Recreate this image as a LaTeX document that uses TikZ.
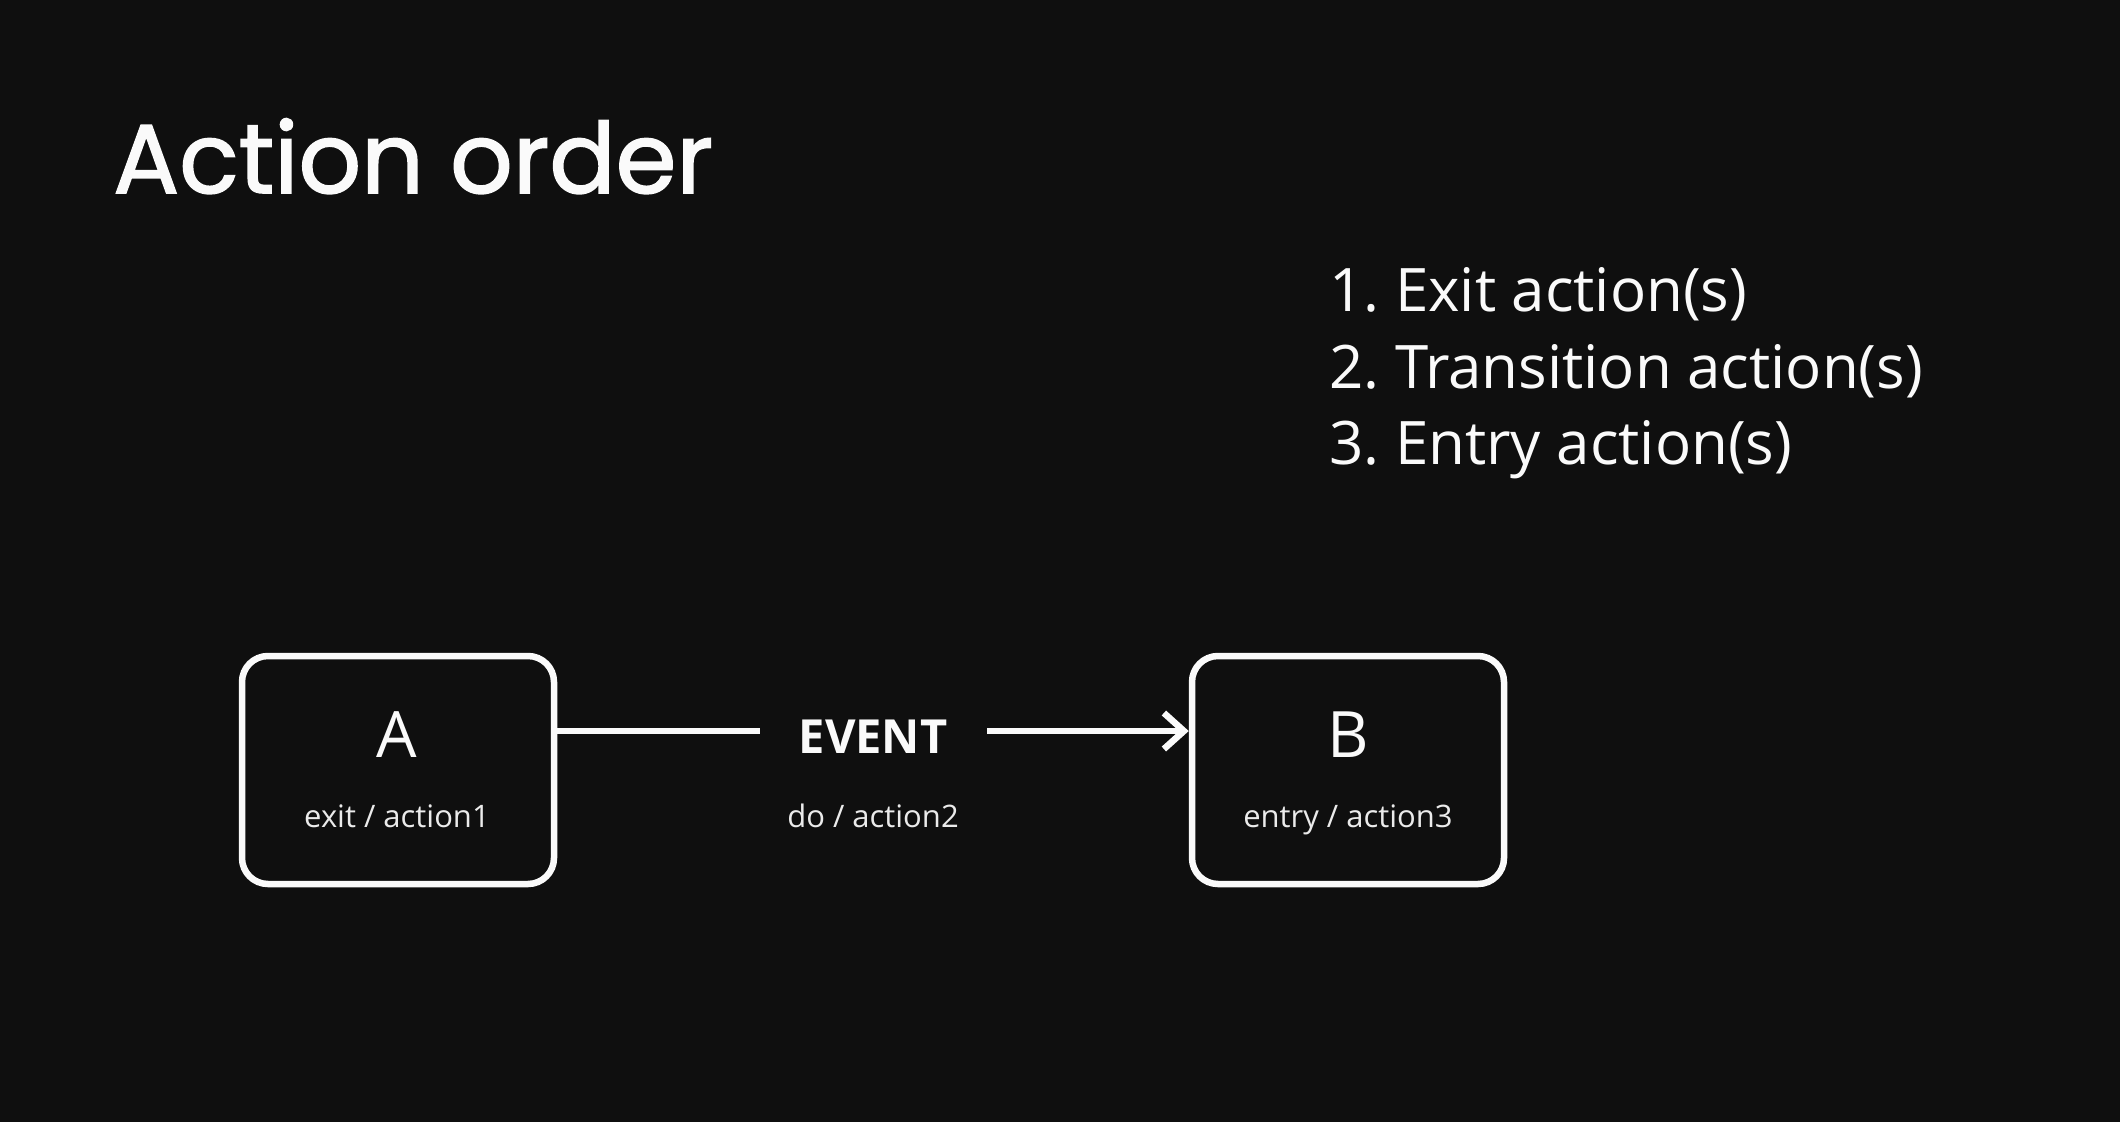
\documentclass[tikz,border=0pt]{standalone}
\usepackage{fontspec}
\usetikzlibrary{arrows.meta}
\setmainfont{Open Sans}
\newfontfamily\titlefont[FakeBold=1.6]{Poppins}
\definecolor{bg}{RGB}{15,15,15}
\definecolor{fg}{RGB}{250,250,250}
\definecolor{soft}{RGB}{235,235,235}
\begin{document}
\frenchspacing
\begin{tikzpicture}[x=1pt,y=-1pt,
  statebox/.style={draw=fg,line width=6.5pt,rounded corners=26pt,minimum width=312pt,minimum height=228pt},
  txt/.style={text=fg,inner sep=0pt},
  listtxt/.style={txt,anchor=base west,font=\fontsize{60}{76.5}\selectfont},
  small/.style={text=soft,inner sep=0pt,font=\fontsize{31}{36}\selectfont},
  conn/.style={draw=fg,line width=6.5pt}]
\fill[bg] (0,0) rectangle (2120,1122);
\useasboundingbox (0,0) rectangle (2120,1122);
\node[txt,anchor=base west,font=\titlefont\fontsize{98}{110}\selectfont] (title) at (113,193) {Action order};
\node[listtxt] (list1) at (1329,311) {1. Exit action(s)};
\node[listtxt] (list2) at (1329,388) {2. Transition action(s)};
\node[listtxt] (list3) at (1329,464) {3. Entry action(s)};
\node[statebox] (A) at (398,770) {};
\node[statebox] (B) at (1348,770) {};
\node[txt,anchor=base,font=\fontsize{64}{70}\selectfont] (Aname) at (397,757) {A};
\node[small,anchor=base] (Aact) at (397,827) {exit / action1};
\node[txt,anchor=base,font=\fontsize{64}{70}\selectfont] (Bname) at (1348,757) {B};
\node[small,anchor=base] (Bact) at (1348,827) {entry / action3};
\node[txt,anchor=base,font=\bfseries\fontsize{47}{56}\selectfont] (ev) at (873,753) {EVENT};
\node[small,anchor=base] (do) at (873,827) {do / action2};
\coordinate (l1) at (760,731);
\coordinate (l2) at (987,731);
\draw[conn] (A.east |- l1) -- (l1);
\draw[conn,-{Straight Barb[length=20pt,width=36pt,line width=6.5pt]}] (l2) -- (B.west |- l2);
\end{tikzpicture}
\end{document}
